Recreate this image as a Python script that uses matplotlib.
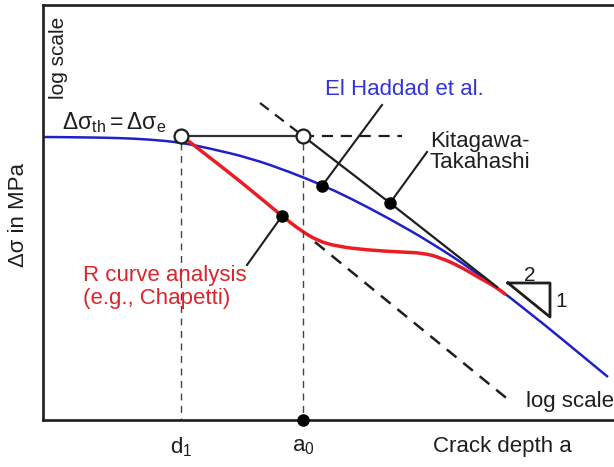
import matplotlib
matplotlib.use("Agg")
import matplotlib.pyplot as plt
from matplotlib.path import Path
from matplotlib.patches import PathPatch

# ----------------------------
# Style
# ----------------------------

plt.rcParams["font.family"] = ["Liberation Sans", "DejaVu Sans"]
plt.rcParams["mathtext.fontset"] = "custom"
plt.rcParams["mathtext.rm"] = "Liberation Sans"
plt.rcParams["mathtext.it"] = "Liberation Sans:italic"

BLUE = "#2020c8"
RED = "#ec1c24"
BLUE_TXT = "#3434d6"
RED_TXT = "#d9262c"
INK = "#1e1e1e"

# ----------------------------
# Data (schematic; x = log a, y = log stress, y down)
# ----------------------------

el_haddad_x = [43, 80, 120, 150, 181, 210, 250, 290, 322, 350, 390, 430, 473, 523, 608]
el_haddad_y = [137, 137.3, 138, 139.5, 142.5, 148.5, 158, 172, 185, 198, 219, 242, 270, 307, 377]

r_curve_x = [182, 200, 240, 282, 300, 318, 338, 367, 400, 423, 440, 460, 477, 487, 497, 505]
r_curve_y = [136, 150, 181, 216, 230, 241, 246.5, 250, 252, 253, 257.5, 266.5, 276.5, 282, 288, 294]

# Kitagawa-Takahashi: plateau then slope -1/2
kt_plateau_x = [182, 303]
kt_plateau_y = [136, 136]
kt_slope_x = [303, 390, 497]
kt_slope_y = [136, 203, 287]
kt_ext_x = [260, 303]
kt_ext_y = [103, 136]
plateau_ext_x = [303, 402]
plateau_ext_y = [136, 136]

# long crack reference line (dashed)
lc_x = [315, 510]
lc_y = [242, 401]

d1 = 181
a0 = 303
stress_e = 136
y_bottom = 420

# marked points with leader lines: (point, leader end)
rc_pt = (282, 216)
rc_lead = (247, 265)
eh_pt = (322, 186)
eh_lead = (382, 105)
kt_pt = (390, 203)
kt_lead = (427, 152)

# slope triangle
tri_x = [508, 550, 550, 508]
tri_y = [283, 283, 317, 283]


def smooth_path(xs, ys):
    # quadratic bezier through the midpoints, read points act as control points
    verts = [(xs[0], ys[0])]
    codes = [Path.MOVETO]
    verts.append(((xs[0] + xs[1]) / 2, (ys[0] + ys[1]) / 2))
    codes.append(Path.LINETO)
    for i in range(1, len(xs) - 1):
        verts.append((xs[i], ys[i]))
        verts.append(((xs[i] + xs[i + 1]) / 2, (ys[i] + ys[i + 1]) / 2))
        codes += [Path.CURVE3, Path.CURVE3]
    verts.append((xs[-1], ys[-1]))
    codes.append(Path.LINETO)
    return Path(verts, codes)


# ----------------------------
# Plot
# ----------------------------

fig = plt.figure(figsize=(6.14, 4.67), dpi=100)
ax = fig.add_axes([43 / 614, 47 / 467, 571 / 614, 415 / 467])
ax.set_xlim(43, 614)
ax.set_ylim(420, 5)
ax.set_xticks([])
ax.set_yticks([])
ax.spines["right"].set_visible(False)
for s in ["left", "top", "bottom"]:
    ax.spines[s].set_linewidth(1.9)
    ax.spines[s].set_color(INK)

# vertical guide lines
ax.plot([d1, d1], [143, y_bottom], color="#444444", lw=1.0, dashes=(5, 4))
ax.plot([a0, a0], [143, y_bottom], color="#444444", lw=1.0, dashes=(5, 4))

# dashed lines
ax.plot(lc_x, lc_y, color=INK, lw=1.8, dashes=(5, 3.5))
ax.plot(kt_ext_x, kt_ext_y, color=INK, lw=1.6, dashes=(5, 3.5))
ax.plot(plateau_ext_x, plateau_ext_y, color=INK, lw=1.6, dashes=(5, 3.5))

# Kitagawa-Takahashi
ax.plot(kt_plateau_x, kt_plateau_y, color="#333333", lw=1.6)
ax.plot(kt_slope_x, kt_slope_y, color=INK, lw=1.6)

# El Haddad and R curve
ax.add_patch(PathPatch(smooth_path(el_haddad_x, el_haddad_y), fill=False,
                       edgecolor=BLUE, lw=1.8))
ax.add_patch(PathPatch(smooth_path(r_curve_x, r_curve_y), fill=False,
                       edgecolor=RED, lw=2.5, capstyle="round"))

# leaders and dots
for pt, lead in [(rc_pt, rc_lead), (eh_pt, eh_lead), (kt_pt, kt_lead)]:
    ax.plot([pt[0], lead[0]], [pt[1], lead[1]], color=INK, lw=1.5)
    ax.plot(pt[0], pt[1], "o", color="black", ms=8, zorder=4)

# open circles at d1 and a0
ax.plot([d1, a0], [stress_e, stress_e], "o", mfc="white", mec=INK, ms=10, mew=1.6, zorder=4)

# dot at a0 on the axis
ax.plot(a0, y_bottom, "o", color="black", ms=8, clip_on=False, zorder=5)

# slope triangle
ax.plot(tri_x, tri_y, color=INK, lw=2.0)
ax.text(530, 276, "2", fontsize=15, ha="center", va="center", color=INK)
ax.text(561, 302, "1", fontsize=15, ha="center", va="center", color=INK)

# ----------------------------
# Labels
# ----------------------------

ax.text(58, 58, "log scale", rotation=90, fontsize=15, ha="center", va="center", color=INK)
ax.text(62, 123, r"$\mathrm{Δσ_{th} = Δσ_e}$", fontsize=16.5, ha="left", va="center", color=INK)
ax.text(404, 90, "El Haddad et al.", fontsize=16, ha="center", va="center", color=BLUE_TXT)
ax.text(430, 152, "Kitagawa-\nTakahashi", fontsize=16, ha="left", va="center",
        color=INK, linespacing=1.05)
ax.text(83, 287, "R curve analysis\n(e.g., Chapetti)", fontsize=16, ha="left", va="center",
        color=RED_TXT, linespacing=1.1)
ax.text(614, 402, "log scale", fontsize=16, ha="right", va="center", color=INK, clip_on=False)

ax.text(d1, 447, r"$\mathrm{d_1}$", fontsize=16, ha="center", va="center", color=INK, clip_on=False)
ax.text(a0, 447, r"$\mathrm{a_0}$", fontsize=16, ha="center", va="center", color=INK, clip_on=False)
ax.text(502, 447, "Crack depth a", fontsize=16, ha="center", va="center", color=INK, clip_on=False)
ax.text(18, 215, "Δσ in MPa", rotation=90, fontsize=16, ha="center", va="center",
        color=INK, clip_on=False)

fig.savefig("out.png", dpi=100)
